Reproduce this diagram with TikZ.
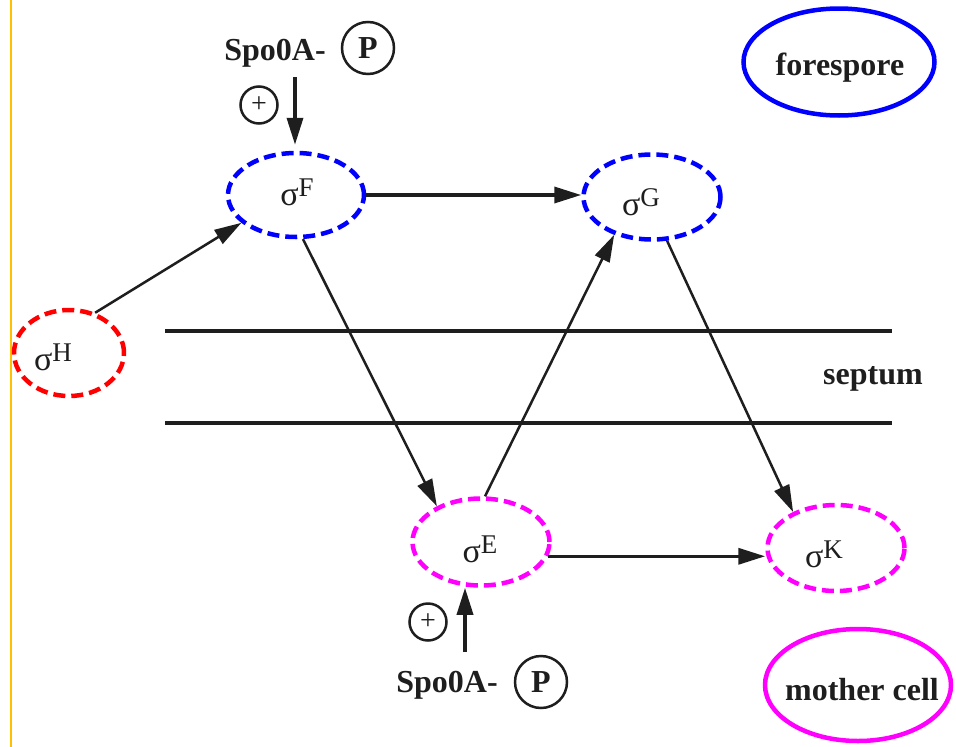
\documentclass[tikz,border=0pt]{standalone}
\usepackage{fontspec}
\setmainfont{Liberation Serif}
\usetikzlibrary{shapes.geometric,arrows.meta}
\definecolor{fblue}{RGB}{0,0,255}
\definecolor{fmag}{RGB}{255,0,255}
\definecolor{fred}{RGB}{255,0,0}
\definecolor{fyel}{RGB}{255,192,0}
\definecolor{ink}{RGB}{30,30,30}
\newcommand{\sigl}[1]{σ\raisebox{9pt}{\fontsize{27}{27}\selectfont #1}}
\begin{document}
\begin{tikzpicture}[x=1pt,y=-1pt,
  sig/.style={ellipse,draw,line width=4.5pt,dash pattern=on 12pt off 6pt,inner sep=0pt},
  region/.style={ellipse,draw,line width=4.5pt,inner sep=0pt},
  lab/.style={font=\fontsize{32}{36}\selectfont\bfseries,text=ink,anchor=base,inner sep=0pt},
  sl/.style={font=\fontsize{34}{36}\selectfont,text=ink,anchor=base,inner sep=0pt},
  pc/.style={circle,draw=ink,line width=2.5pt,minimum size=52pt,inner sep=0pt,font=\fontsize{32}{36}\selectfont\bfseries,text=ink},
  plus/.style={circle,draw=ink,line width=2.5pt,minimum size=37pt,inner sep=0pt,font=\fontsize{28}{30}\selectfont,text=ink},
  arr/.style={-{Triangle[length=27pt,width=16pt]},line width=2.5pt,draw=ink},
  arrh/.style={-{Triangle[length=27pt,width=16pt]},line width=3.5pt,draw=ink},
  sept/.style={line width=3.5pt,draw=ink}
]
\useasboundingbox (0,0) rectangle (956,747);
\fill[white] (0,0) rectangle (956,747);

% left yellow rule
\coordinate (y1) at (10.5,0);
\coordinate (y2) at (10.5,747);
\draw[fyel,line width=2pt] (y1) -- (y2);

% sigma nodes
\node[sig,draw=fblue,minimum width=136pt,minimum height=84pt] (sF) at (296,195) {};
\node[sig,draw=fblue,minimum width=137pt,minimum height=85pt] (sG) at (652,197) {};
\node[sig,draw=fred,minimum width=110pt,minimum height=86pt] (sH) at (69,353) {};
\node[sig,draw=fmag,minimum width=137pt,minimum height=87pt] (sE) at (481,542) {};
\node[sig,draw=fmag,minimum width=137pt,minimum height=86pt] (sK) at (836,548) {};

\node[sl] (lF) at (297,205) {\sigl{F}};
\node[sl] (lG) at (641,215) {\sigl{G}};
\node[sl] (lH) at (53,370) {\sigl{H}};
\node[sl] (lE) at (480,562) {\sigl{E}};
\node[sl] (lK) at (824,567) {\sigl{K}};

% legend ellipses
\node[region,draw=fblue,minimum width=191pt,minimum height=107pt] (fs) at (839,62) {};
\node[lab] (fsl) at (840,75) {forespore};
\node[region,draw=fmag,minimum width=186pt,minimum height=112pt] (mc) at (858,685) {};
\node[lab] (mcl) at (862,700) {mother cell};

% septum
\coordinate (s1a) at (165,331);
\coordinate (s1b) at (892,331);
\coordinate (s2a) at (165,423);
\coordinate (s2b) at (892,423);
\draw[sept] (s1a) -- (s1b);
\draw[sept] (s2a) -- (s2b);
\node[lab] (sep) at (873,384) {septum};

% Spo0A-P top
\node[lab] (spoT) at (275,60) {Spo0A-};
\node[pc] (pT) at (368,48) {P};
\node[plus] (plT) at (259,105) {+};
\coordinate (t1) at (295,77);
\draw[arrh,shorten >=6pt] (t1) -- (t1 |- sF.north);

% Spo0A-P bottom
\node[lab] (spoB) at (447,692) {Spo0A-};
\node[pc] (pB) at (541,682) {P};
\node[plus] (plB) at (428,622) {+};
\coordinate (b1) at (465,652);
\draw[arrh] (b1) -- (b1 |- sE.south);

% connectors
\draw[arr] (sH.57) -- (sF.207);
\draw[arrh] (sF.east) -- (sF.east -| sG.west);
\draw[arr] (sF.-81) -- (sE.141);
\draw[arr] (sE.85) -- (sG.225);
\draw[arr] (sG.-71) -- (sK.140);
\draw[arrh] (sE.-12) -- (sE.-12 -| sK.west);
\end{tikzpicture}
\end{document}
